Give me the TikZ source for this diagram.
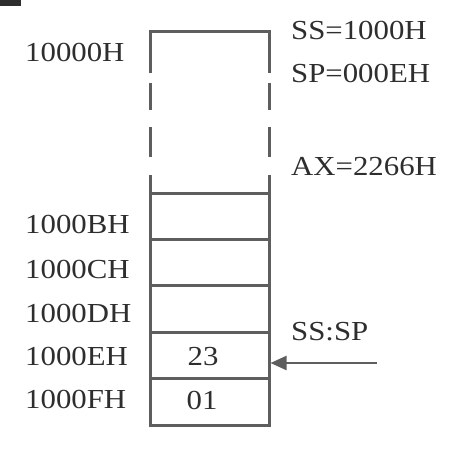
\documentclass[tikz,border=0pt]{standalone}
\usepackage{fontspec}
\setmainfont[FakeStretch=1.12]{Liberation Serif}
\usetikzlibrary{arrows.meta}
\definecolor{ink}{HTML}{2E2E2E}
\definecolor{linec}{HTML}{5E5E5E}
\tikzset{
  lbl/.style={anchor=west, inner sep=0pt, text=ink, font=\fontsize{27.5}{30}\selectfont},
  val/.style={inner sep=0pt, text=ink, font=\fontsize{27.5}{30}\selectfont},
  cell/.style={draw=linec, line width=3pt, minimum width=119pt, minimum height=46.4pt, inner sep=0pt},
  wall/.style={draw=linec, line width=3pt},
  ptr/.style={draw=linec, line width=2.2pt, -{Triangle[length=16pt,width=14pt]}}
}
\begin{document}
\begin{tikzpicture}[x=1pt,y=-1pt]
\useasboundingbox (0,0) rectangle (452,455);
\fill[ink] (0,0) rectangle (21,6);
% top part of the stack
\draw[wall] (150,73) -- (150,31) -- (269,31) -- (269,73);
\foreach \a/\b in {83/110,127/157,175/193}{
  \draw[wall] (150,\a) -- (150,\b);
  \draw[wall] (269,\a) -- (269,\b);
}
% cells
\node[cell] (cB) at (209.5,216.2) {};
\node[cell] (cC) at (209.5,262.6) {};
\node[cell] (cD) at (209.5,309.0) {};
\node[cell] (cE) at (209.5,355.4) {};
\node[cell] (cF) at (209.5,401.8) {};
\node[val] (vE) at (203,357) {23};
\node[val] (vF) at (202,400) {01};
% address labels
\node[lbl] (a0) at (25,52) {10000H};
\node[lbl] (aB) at (25,224) {1000BH};
\node[lbl] (aC) at (25,269) {1000CH};
\node[lbl] (aD) at (25,313) {1000DH};
\node[lbl] (aE) at (25,356) {1000EH};
\node[lbl] (aF) at (25,399) {1000FH};
% registers
\node[lbl] (ss) at (291,30) {SS=1000H};
\node[lbl] (sp) at (291,73) {SP=000EH};
\node[lbl] (ax) at (291,167) {AX=2266H};
\node[lbl] (sssp) at (291,332) {SS:SP};
\coordinate (tail) at (377,363);
\draw[ptr] (tail) -- (cE.east |- tail);
\end{tikzpicture}
\end{document}
